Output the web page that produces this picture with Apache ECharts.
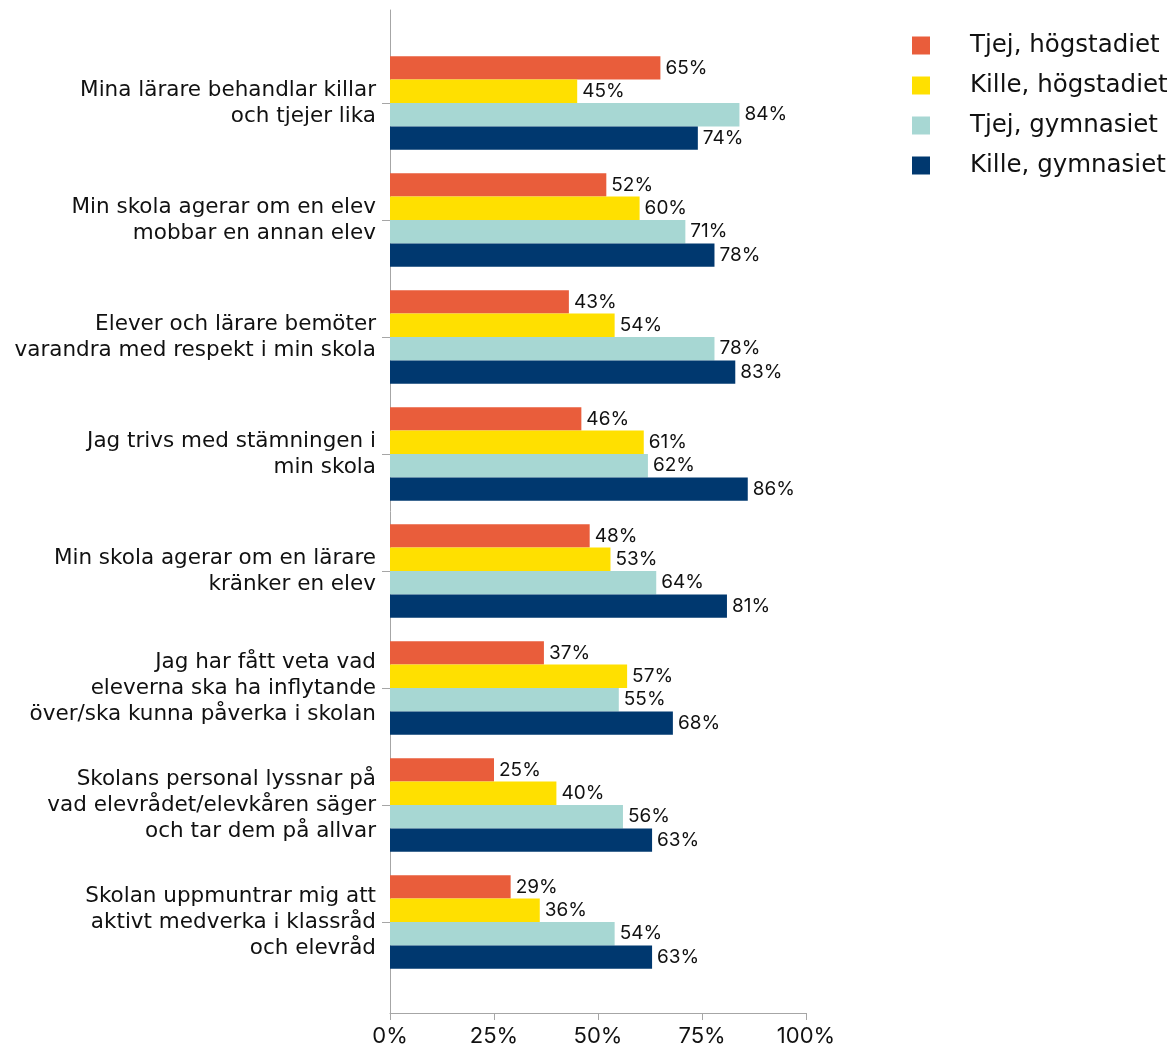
<!DOCTYPE html>
<html>
<head>
<meta charset="utf-8">
<script src="https://cdn.jsdelivr.net/npm/echarts@6/dist/echarts.min.js"></script>
<style>
html,body{margin:0;padding:0;background:#fff;}
#chart{width:1173px;height:1048px;}
</style>
</head>
<body>
<div id="chart"></div>
<script>
const categories = [
  "Mina lärare behandlar killar\noch tjejer lika",
  "Min skola agerar om en elev\nmobbar en annan elev",
  "Elever och lärare bemöter\nvarandra med respekt i min skola",
  "Jag trivs med stämningen i\nmin skola",
  "Min skola agerar om en lärare\nkränker en elev",
  "Jag har fått veta vad\neleverna ska ha inflytande\növer/ska kunna påverka i skolan",
  "Skolans personal lyssnar på\nvad elevrådet/elevkåren säger\noch tar dem på allvar",
  "Skolan uppmuntrar mig att\naktivt medverka i klassråd\noch elevråd"
];
const seriesNames = ["Tjej, högstadiet", "Kille, högstadiet", "Tjej, gymnasiet", "Kille, gymnasiet"];
const tjejHogstadiet  = [65, 52, 43, 46, 48, 37, 25, 29];
const killeHogstadiet = [45, 60, 54, 61, 53, 57, 40, 36];
const tjejGymnasiet   = [84, 71, 78, 62, 64, 55, 56, 54];
const killeGymnasiet  = [74, 78, 83, 86, 81, 68, 63, 63];
const xTicks = [0, 25, 50, 75, 100];

const colors = ["#E95D3B", "#FFE000", "#A7D7D3", "#00386F"];
const FONT = "Inter";
const WIDE = "DejaVu Sans";
const seriesData = [tjejHogstadiet, killeHogstadiet, tjejGymnasiet, killeGymnasiet];

const chart = echarts.init(document.getElementById('chart'));
chart.setOption({
  animation: false,
  textStyle: { fontFamily: FONT },
  color: colors,
  legend: {
    orient: 'vertical',
    left: 912,
    top: 33,
    padding: 0,
    itemWidth: 18,
    itemHeight: 18,
    itemGap: 15,
    icon: 'rect',
    data: seriesNames,
    textStyle: { fontFamily: WIDE, fontSize: 24.5, color: '#111', lineHeight: 24, padding: [0, 0, 0, 35] }
  },
  grid: [
    { left: 390, right: 367, top: 44.5, bottom: 67.5, containLabel: false },
    { left: 390, right: 367, top: 10, bottom: 35, containLabel: false }
  ],
  xAxis: [
    { gridIndex: 0, type: 'value', min: 0, max: 100, show: false },
    {
      gridIndex: 1, type: 'value', min: xTicks[0], max: xTicks[xTicks.length - 1], interval: 25,
      axisLine: { show: true, lineStyle: { color: '#a6a6a6', width: 1 } },
      axisTick: { show: true, length: 7, lineStyle: { color: '#a6a6a6' } },
      splitLine: { show: false },
      axisLabel: { formatter: v => v + '%', fontFamily: FONT, fontSize: 22, color: '#111', margin: 12 }
    }
  ],
  yAxis: [
    {
      gridIndex: 0, type: 'category', data: categories, inverse: true,
      axisLine: { show: false },
      axisTick: { show: true, alignWithLabel: true, length: 8, lineStyle: { color: '#a6a6a6' } },
      axisLabel: { fontFamily: WIDE, fontSize: 21.5, color: '#111', lineHeight: 26, margin: 14, align: 'right', padding: [14, 0, 0, 0] }
    },
    {
      gridIndex: 1, type: 'value', min: 0, max: 1,
      axisLine: { show: true, lineStyle: { color: '#a6a6a6', width: 1 } },
      axisTick: { show: false }, axisLabel: { show: false }, splitLine: { show: false }
    }
  ],
  series: seriesNames.map((name, i) => ({
    name: name,
    type: 'bar',
    xAxisIndex: 0,
    yAxisIndex: 0,
    data: seriesData[i],
    barGap: '0%',
    barCategoryGap: '20%',
    itemStyle: { color: colors[i] },
    label: {
      show: true, position: 'right', distance: 5,
      formatter: p => p.value + '%',
      fontFamily: FONT, fontSize: 19, color: '#111'
    }
  }))
});
</script>
</body>
</html>
